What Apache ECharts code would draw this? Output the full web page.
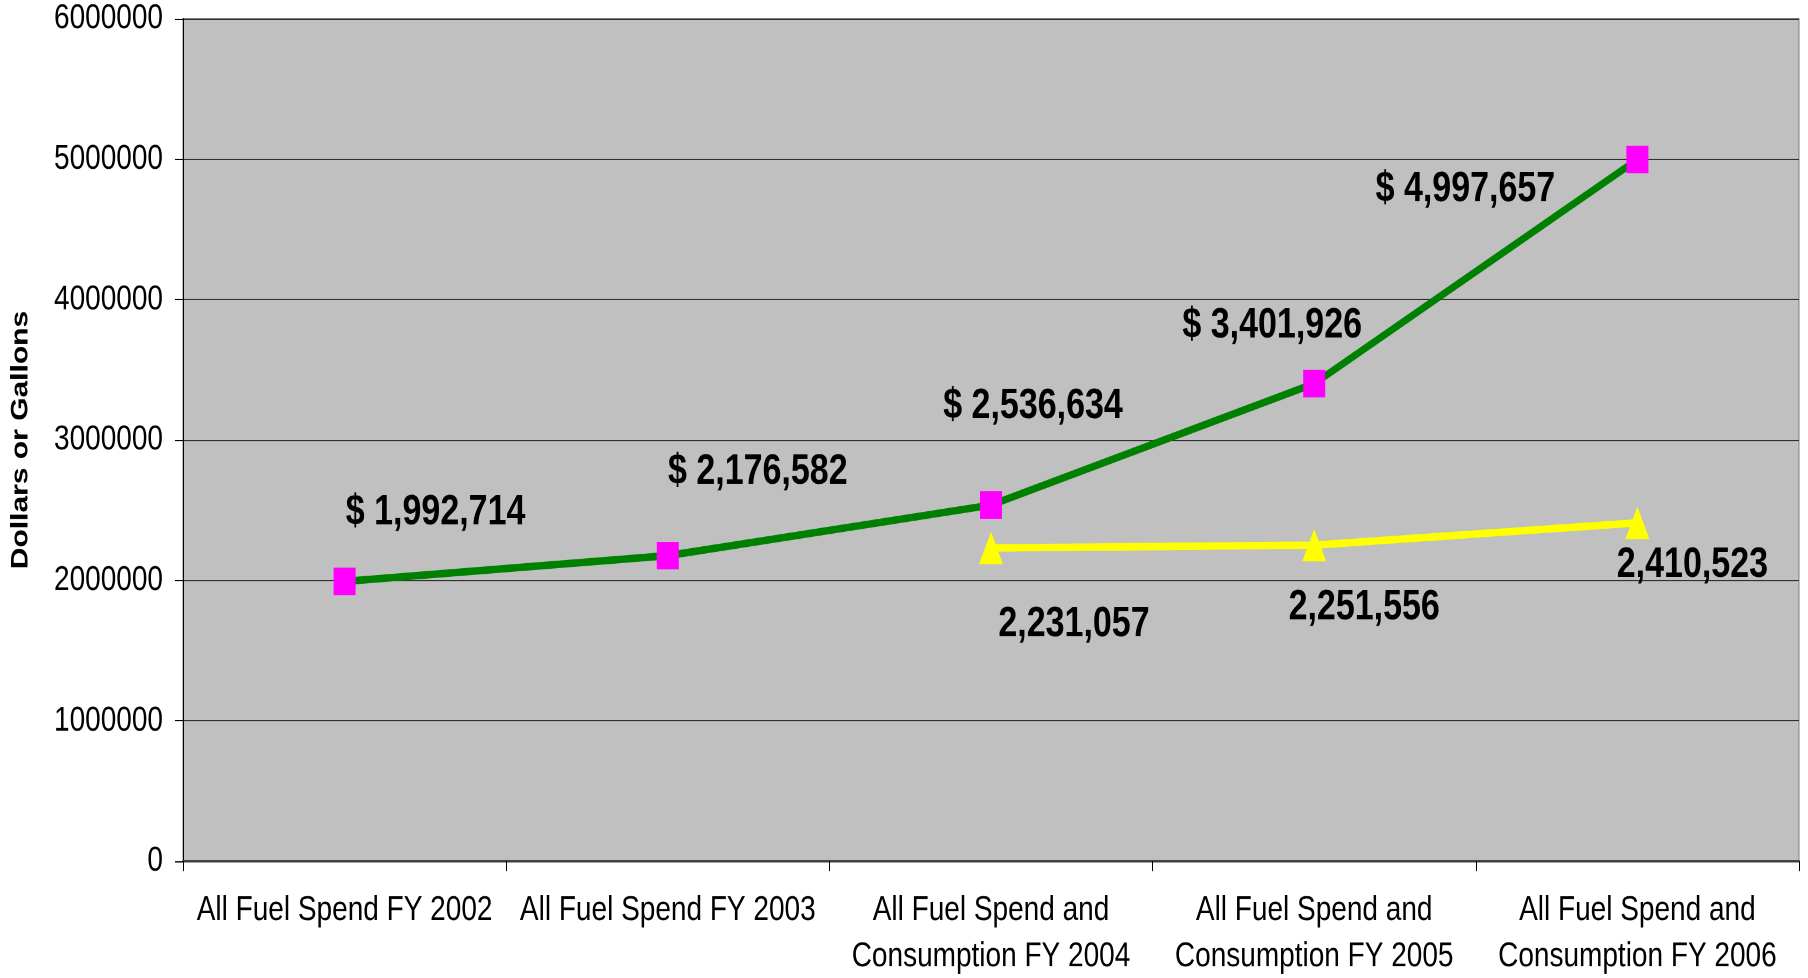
<!DOCTYPE html>
<html>
<head>
<meta charset="utf-8">
<script src="https://cdn.jsdelivr.net/npm/echarts@6/dist/echarts.min.js"></script>
<style>
  html, body { margin: 0; padding: 0; background: #fff; }
  #wrap { width: 1808px; height: 978px; position: relative; overflow: hidden; }
  /* the original picture is stretched vertically, so draw at 1/1.25 height and stretch */
  #chart { position: absolute; left: 0; top: 0; width: 1808px; height: 782px; transform: scaleY(1.25); transform-origin: 0 0; }
</style>
</head>
<body>
<div id="wrap"><div id="chart"></div></div>
<script>
// categories along the x axis
var categories = [
  "All Fuel Spend FY 2002",
  "All Fuel Spend FY 2003",
  "All Fuel Spend and\nConsumption FY 2004",
  "All Fuel Spend and\nConsumption FY 2005",
  "All Fuel Spend and\nConsumption FY 2006"
];
// fuel spend in dollars
var spendValues = [1992714, 2176582, 2536634, 3401926, 4997657];
// fuel consumption in gallons (only from FY 2004)
var gallonValues = [null, null, 2231057, 2251556, 2410523];
var yTicks = [0, 1000000, 2000000, 3000000, 4000000, 5000000, 6000000];

// hand placed label offsets, as in the original chart
var spendLabelOffsets = [[91, -55], [90, -67], [42, -79], [-42, -46], [-172, 24]];
var gallonLabelOffsets = [[0, 0], [0, 0], [83, 61], [50, 50], [55, 34]];

var font = "'Liberation Sans', Arial, sans-serif";

function fmt(v) {
  return String(v).replace(/\B(?=(\d{3})+(?!\d))/g, ",");
}

var labelStyle = {
  show: true,
  position: "inside",
  fontFamily: font,
  fontWeight: "bold",
  fontSize: 34,
  color: "#000"
};

var spendData = spendValues.map(function (v, i) {
  return {
    value: v,
    label: Object.assign({}, labelStyle, {
      offset: spendLabelOffsets[i],
      formatter: "$ " + fmt(v)
    })
  };
});
var gallonData = gallonValues.map(function (v, i) {
  if (v === null) return null;
  return {
    value: v,
    label: Object.assign({}, labelStyle, {
      offset: gallonLabelOffsets[i],
      formatter: fmt(v)
    })
  };
});

var myChart = echarts.init(document.getElementById("chart"), null, { devicePixelRatio: 2 });
myChart.setOption({
  animation: false,
  grid: {
    left: 183,
    right: 9,
    top: 15,
    bottom: 93,
    containLabel: false,
    outerBoundsMode: "none",
    show: true,
    backgroundColor: "#C0C0C0",
    borderColor: "#808080",
    borderWidth: 1
  },
  xAxis: {
    type: "category",
    data: categories,
    boundaryGap: true,
    axisLine: { show: true, lineStyle: { color: "#404040", width: 2 } },
    axisTick: { show: true, length: 8, lineStyle: { color: "#000", width: 1 } },
    axisLabel: {
      interval: 0,
      margin: 21,
      fontFamily: font,
      fontSize: 28,
      lineHeight: 37,
      color: "#000"
    }
  },
  yAxis: {
    type: "value",
    min: yTicks[0],
    max: yTicks[yTicks.length - 1],
    interval: yTicks[1] - yTicks[0],
    name: "Dollars or Gallons",
    nameLocation: "middle",
    nameGap: 150,
    nameRotate: 90,
    nameTextStyle: {
      fontFamily: font,
      fontWeight: "bold",
      fontSize: 24,
      color: "#000"
    },
    axisLine: { show: true, lineStyle: { color: "#000", width: 1 } },
    axisTick: { show: true, length: 8, lineStyle: { color: "#000" } },
    axisLabel: {
      margin: 20,
      fontFamily: font,
      fontSize: 28,
      color: "#000",
      formatter: function (v) { return String(v); }
    },
    splitLine: { show: true, lineStyle: { color: "#303030", width: 1 } }
  },
  series: [
    {
      name: "All Fuel Spend",
      type: "line",
      data: spendData,
      lineStyle: { color: "#008000", width: 6 },
      itemStyle: { color: "#FF00FF" },
      symbol: "rect",
      symbolSize: [22, 22],
      z: 3
    },
    {
      name: "Gallons",
      type: "line",
      data: gallonData,
      lineStyle: { color: "#FFFF00", width: 6 },
      itemStyle: { color: "#FFFF00" },
      symbol: "triangle",
      symbolSize: [24, 26],
      z: 2
    }
  ]
});
</script>
</body>
</html>
